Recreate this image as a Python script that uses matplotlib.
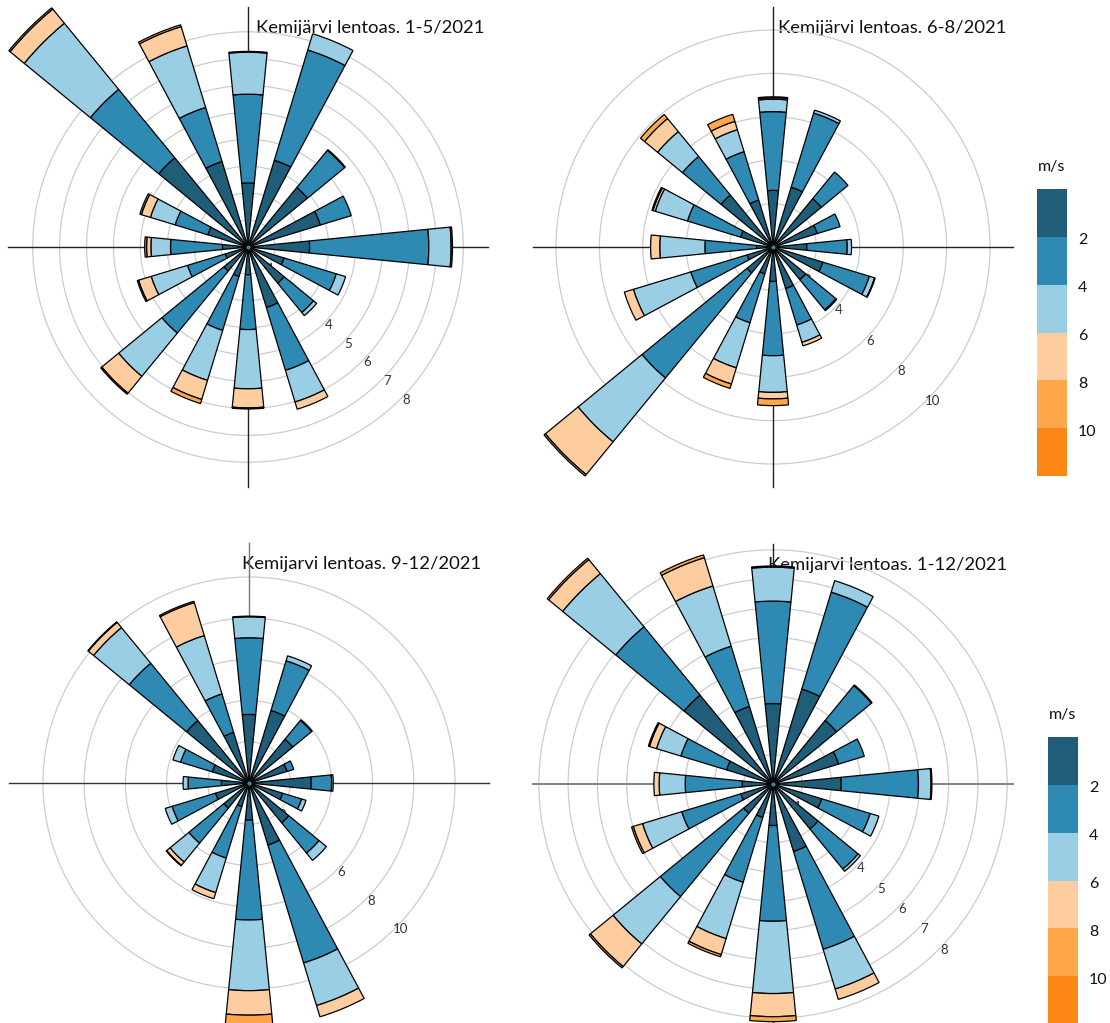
import numpy as np
import matplotlib.pyplot as plt

plt.rcParams['font.family'] = ['Lato', 'DejaVu Sans']

# 16 sectors, clockwise from north
directions = ['N', 'NNE', 'NE', 'ENE', 'E', 'ESE', 'SE', 'SSE',
              'S', 'SSW', 'SW', 'WSW', 'W', 'WNW', 'NW', 'NNW']
speed_colors = ['#1f5d79', '#2e89b3', '#9acee5', '#fecd9f', '#fea84b', '#fd8714']
speed_ticks = ['2', '4', '6', '8', '10']

# frequency (%) per speed class: 0-2, 2-4, 4-6, 6-8, 8-10, >10 m/s
jan_may = [
    [2.38, 3.37, 2.86, 2.81, 2.29, 1.40, 1.74, 2.35, 1.03, 1.15, 1.16, 0.88, 0.95, 1.56, 4.29, 3.32],
    [3.30, 4.28, 1.79, 1.20, 4.43, 2.03, 1.41, 2.44, 2.04, 2.09, 2.98, 1.47, 1.93, 1.27, 3.29, 2.10],
    [1.56, 0.63, 0.03, 0.00, 0.83, 0.36, 0.15, 1.23, 2.20, 1.94, 2.08, 1.41, 0.73, 0.96, 3.18, 2.39],
    [0.03, 0.00, 0.00, 0.00, 0.05, 0.00, 0.00, 0.28, 0.71, 0.74, 0.81, 0.49, 0.16, 0.35, 0.68, 0.75],
    [0.00, 0.00, 0.00, 0.00, 0.00, 0.00, 0.00, 0.00, 0.04, 0.16, 0.05, 0.05, 0.07, 0.06, 0.06, 0.07],
    [0.00, 0.00, 0.00, 0.00, 0.00, 0.00, 0.00, 0.00, 0.00, 0.00, 0.00, 0.00, 0.00, 0.00, 0.00, 0.00],
]
jun_aug = [
    [2.61, 2.88, 2.88, 2.13, 1.56, 2.40, 1.95, 2.00, 1.59, 1.30, 1.55, 1.25, 0.76, 1.56, 3.10, 2.26],
    [3.63, 3.57, 1.59, 1.10, 1.86, 2.24, 1.80, 1.76, 3.42, 2.35, 6.26, 2.71, 2.38, 2.56, 2.30, 2.33],
    [0.57, 0.14, 0.00, 0.00, 0.20, 0.25, 0.05, 0.83, 1.69, 2.17, 3.81, 2.76, 2.08, 1.55, 1.48, 1.06],
    [0.07, 0.00, 0.00, 0.00, 0.00, 0.03, 0.00, 0.17, 0.30, 0.78, 1.95, 0.44, 0.42, 0.11, 0.78, 0.40],
    [0.04, 0.00, 0.00, 0.00, 0.00, 0.00, 0.00, 0.00, 0.31, 0.21, 0.08, 0.00, 0.00, 0.05, 0.24, 0.34],
    [0.00, 0.00, 0.00, 0.00, 0.00, 0.00, 0.00, 0.00, 0.00, 0.00, 0.00, 0.00, 0.00, 0.00, 0.00, 0.00],
]
sep_dec = [
    [3.33, 3.68, 2.75, 1.93, 3.02, 1.71, 2.50, 3.15, 1.80, 1.20, 1.58, 1.70, 1.34, 1.86, 3.92, 2.57],
    [3.72, 2.52, 1.18, 0.34, 0.99, 0.96, 1.90, 5.98, 4.85, 2.61, 2.20, 2.20, 1.62, 1.61, 3.60, 1.95],
    [1.02, 0.25, 0.04, 0.00, 0.08, 0.22, 0.46, 2.16, 3.43, 1.75, 1.18, 0.35, 0.24, 0.39, 2.24, 2.96],
    [0.03, 0.00, 0.00, 0.00, 0.00, 0.00, 0.00, 0.57, 1.19, 0.31, 0.21, 0.00, 0.00, 0.00, 0.33, 1.67],
    [0.00, 0.00, 0.00, 0.00, 0.00, 0.00, 0.00, 0.00, 0.53, 0.00, 0.03, 0.00, 0.00, 0.00, 0.03, 0.07],
    [0.00, 0.00, 0.00, 0.00, 0.00, 0.00, 0.00, 0.00, 0.00, 0.00, 0.00, 0.00, 0.00, 0.00, 0.00, 0.00],
]
jan_dec = [
    [2.75, 3.39, 2.81, 2.34, 2.33, 1.74, 1.99, 2.41, 1.42, 1.20, 1.30, 1.15, 1.05, 1.66, 3.93, 2.77],
    [3.50, 3.46, 1.54, 0.92, 2.64, 1.73, 1.77, 3.49, 3.27, 2.31, 3.68, 2.11, 1.95, 1.63, 3.02, 2.15],
    [1.16, 0.41, 0.03, 0.00, 0.43, 0.31, 0.10, 1.42, 2.47, 2.01, 2.09, 1.40, 0.89, 0.87, 2.35, 2.15],
    [0.04, 0.00, 0.00, 0.00, 0.03, 0.00, 0.00, 0.37, 0.79, 0.57, 1.00, 0.33, 0.18, 0.25, 0.62, 1.01],
    [0.00, 0.00, 0.00, 0.00, 0.00, 0.00, 0.00, 0.00, 0.17, 0.08, 0.06, 0.06, 0.00, 0.04, 0.06, 0.10],
    [0.00, 0.00, 0.00, 0.00, 0.00, 0.00, 0.00, 0.00, 0.00, 0.00, 0.00, 0.00, 0.00, 0.00, 0.00, 0.00],
]

titles = ['Kemijärvi lentoas. 1-5/2021', 'Kemijärvi lentoas. 6-8/2021',
          'Kemijarvi lentoas. 9-12/2021', 'Kemijarvi lentoas. 1-12/2021']

W, H = 1110, 1023
fig = plt.figure(figsize=(W / 100, H / 100), dpi=100)

# panel layout in pixels: (left, top, rmax, rings, title x, cross colours (h, v))
panels = [
    (jan_may, 8, 7, 8.92, [1, 2, 3, 4, 5, 6, 7, 8], 0.992, ('#222222', '#222222')),
    (jun_aug, 533, 7, 11.06, [2, 4, 6, 8, 10], 0.9875, ('#222222', '#222222')),
    (sep_dec, 9, 543, 11.65, [2, 4, 6, 8, 10], 0.9833, ('#333333', '#777777')),
    (jan_dec, 533, 544, 8.2, [1, 2, 3, 4, 5, 6, 7, 8], 0.9875, ('#808080', '#222222')),
]

theta = np.deg2rad(np.arange(16) * 22.5)
width = np.deg2rad(22.5) * 0.5
size = 480

for (data, left, top, rmax, rings, tx, cross), title in zip(panels, titles):
    ax = fig.add_axes([left / W, 1 - (top + size) / H, size / W, size / H],
                      projection='polar')
    ax.set_theta_zero_location('N')
    ax.set_theta_direction(-1)
    ax.patch.set_alpha(0)
    ax.spines['polar'].set_visible(False)

    # stacked wedges, empty speed classes skipped
    bottom = np.zeros(16)
    for vals, col in zip(data, speed_colors):
        vals = np.array(vals)
        nz = vals > 0
        if nz.any():
            ax.bar(theta[nz], vals[nz], width=width, bottom=bottom[nz], color=col,
                   edgecolor='black', linewidth=0.9, zorder=2, clip_on=False)
        bottom = bottom + vals
    ax.plot([0], [0], marker='o', ms=4, mfc=speed_colors[1], mec='black',
            mew=1, zorder=3)

    # cross through the centre
    for a, c in zip([0, 90, 180, 270], [cross[1], cross[0], cross[1], cross[0]]):
        lw = 1.4 if c == '#808080' else 1.0
        ax.plot([np.deg2rad(a)] * 2, [0, rmax], color=c, lw=lw, zorder=0.8,
                clip_on=False)

    ax.set_ylim(0, rmax)
    ax.set_yticks(rings)
    ax.set_yticklabels([])
    ax.set_xticks([])
    ax.set_axisbelow(True)
    ax.yaxis.grid(True, color='#cccccc', lw=0.9)

    px_per_unit = 240 / rmax
    for r in rings:
        ax.text(np.deg2rad(134), r + 4.5 / px_per_unit, str(r), fontsize=9.5,
                color='#333333', ha='center', va='center', zorder=0.9)

    ax.text(tx, 0.956, title, transform=ax.transAxes, ha='right', va='center',
            fontsize=13.3, color='#111111', zorder=0.5)

# speed legends
for left, top in [(1037, 189), (1048, 737)]:
    lax = fig.add_axes([left / W, 1 - (top + 287) / H, 30 / W, 287 / H])
    lax.bar(np.zeros(6), np.ones(6), bottom=np.arange(6)[::-1], width=1,
            color=speed_colors, linewidth=0)
    lax.set_xlim(-0.5, 0.5)
    lax.set_ylim(0, 6)
    lax.axis('off')
    for i, t in enumerate(speed_ticks):
        lax.text(0.87, 5 - i - 0.07, t, fontsize=11.5, ha='left', va='center',
                 color='#111111', transform=lax.transData, clip_on=False)
    lax.text(0.5, 1.0 + 22 / 287, 'm/s', fontsize=11.5, ha='center',
             va='center', transform=lax.transAxes, color='#111111')

fig.savefig('out.png', dpi=100)
